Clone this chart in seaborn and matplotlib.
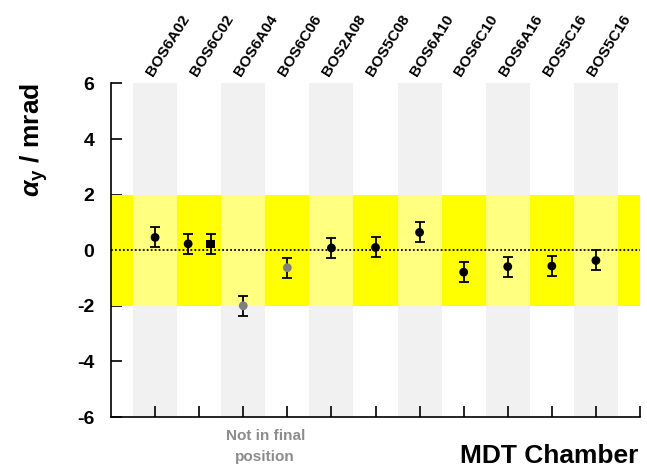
import numpy as np
import pandas as pd
import matplotlib
matplotlib.use("Agg")
import matplotlib.pyplot as plt
import matplotlib.transforms as mtransforms
import seaborn as sns

# Chambres MDT (une etiquette par position)
chambers = ["BOS6A02", "BOS6C02", "BOS6A04", "BOS6C06", "BOS2A08", "BOS5C08",
            "BOS6A10", "BOS6C10", "BOS6A16", "BOS5C16", "BOS5C16"]

# Mesures : indice de chambre, decalage dans la colonne, valeur, erreur
point_chamber = [0, 1, 1, 2, 3, 4, 5, 6, 7, 8, 9, 10]
point_shift = [0.0, -0.25, 0.26, 0.0, 0.0, 0.0, 0.0, 0.0, 0.0, 0.0, 0.0, 0.0]
alpha_y = [0.46, 0.23, 0.22, -2.00, -0.63, 0.08, 0.10, 0.64, -0.79, -0.59, -0.57, -0.37]
alpha_err = [0.36, 0.36, 0.36, 0.35, 0.36, 0.36, 0.36, 0.36, 0.36, 0.36, 0.36, 0.36]
status = ["final", "final", "final", "not", "not", "final", "final", "final",
          "final", "final", "final", "final"]
marker_kind = ["circle", "circle", "square", "circle", "circle", "circle", "circle",
               "circle", "circle", "circle", "circle", "circle"]

df = pd.DataFrame({
    "x": np.array(point_chamber) + 1 + np.array(point_shift),
    "y": alpha_y,
    "err": alpha_err,
    "status": status,
    "marker": marker_kind,
})

sns.set_style("ticks")
plt.rcParams["font.family"] = ["Liberation Sans", "DejaVu Sans"]
plt.rcParams["font.weight"] = "bold"
plt.rcParams["text.color"] = "black"
plt.rcParams["axes.labelcolor"] = "black"
plt.rcParams["xtick.color"] = "black"
plt.rcParams["ytick.color"] = "black"
plt.rcParams["axes.edgecolor"] = "black"
plt.rcParams["mathtext.fontset"] = "custom"
plt.rcParams["mathtext.rm"] = "Liberation Sans"
plt.rcParams["mathtext.it"] = "Liberation Sans:italic"
plt.rcParams["mathtext.bf"] = "Liberation Sans:bold"

fig = plt.figure(figsize=(6.47, 4.74), dpi=100)
ax = fig.add_axes([111 / 647, 57 / 474, 529 / 647, 333.6 / 474])

n = len(chambers)
# bandes grises et jaunes
ax.axhspan(-2, 2, color="#FFFF00", lw=0, zorder=1)
for k in range(1, n + 1, 2):
    ax.axvspan(k - 0.5, k + 0.5, color="#F1F1F1", lw=0, zorder=0)
    ax.fill_between([k - 0.5, k + 0.5], -2, 2, color="#FFFF80", lw=0, zorder=1.5)

ax.axhline(0, color="black", ls=(0, (1, 1.2)), lw=1.3, zorder=2)

ax.errorbar(df["x"], df["y"], yerr=df["err"], fmt="none", ecolor="black",
            elinewidth=1.3, capsize=3.5, capthick=1.3, zorder=3)
sns.scatterplot(data=df, x="x", y="y", hue="status", style="marker",
                palette={"final": "black", "not": "#7F7F7F"},
                markers={"circle": "o", "square": "s"},
                s=40, linewidth=0, legend=False, zorder=4, ax=ax)

ax.set_xlim(0, n + 1)
ax.set_ylim(-6, 6)
ax.set_xticks(range(1, n + 2))
ax.set_xticklabels([])
ax.set_yticks([-6, -4, -2, 0, 2, 4, 6])
ax.set_yticklabels(["-6", "-4", "-2", "0", "2", "4", "6"], fontsize=14, fontweight="bold")
ax.tick_params(axis="both", direction="in", length=8, width=1.2, pad=12, colors="black")
ax.set_xlabel("")
ax.set_ylabel("")
sns.despine(ax=ax)
for side in ["left", "bottom"]:
    ax.spines[side].set_linewidth(1.2)
    ax.spines[side].set_color("black")

trans = mtransforms.blended_transform_factory(ax.transData, ax.transAxes)
for i, name in enumerate(chambers):
    ax.text(i + 1 - 0.05, 1.02, name, transform=trans, rotation=58,
            rotation_mode="anchor", ha="left", va="baseline",
            fontsize=11, fontweight="bold", color="black")

ax.text(3.5, -0.035, "Not in final\nposition", transform=trans, ha="center",
        va="top", fontsize=11, fontweight="bold", color="#8C8C8C", linespacing=1.7)
ax.text(0.997, -0.08, "MDT Chamber", transform=ax.transAxes, ha="right", va="top",
        fontsize=19, fontweight="bold", color="black")
ax.text(-0.145, 0.83, r"$\alpha_{\mathbf{y}}$ / mrad", transform=ax.transAxes,
        rotation=90, ha="center", va="center", fontsize=19, fontweight="bold",
        color="black")

fig.savefig("out.png", dpi=100)
